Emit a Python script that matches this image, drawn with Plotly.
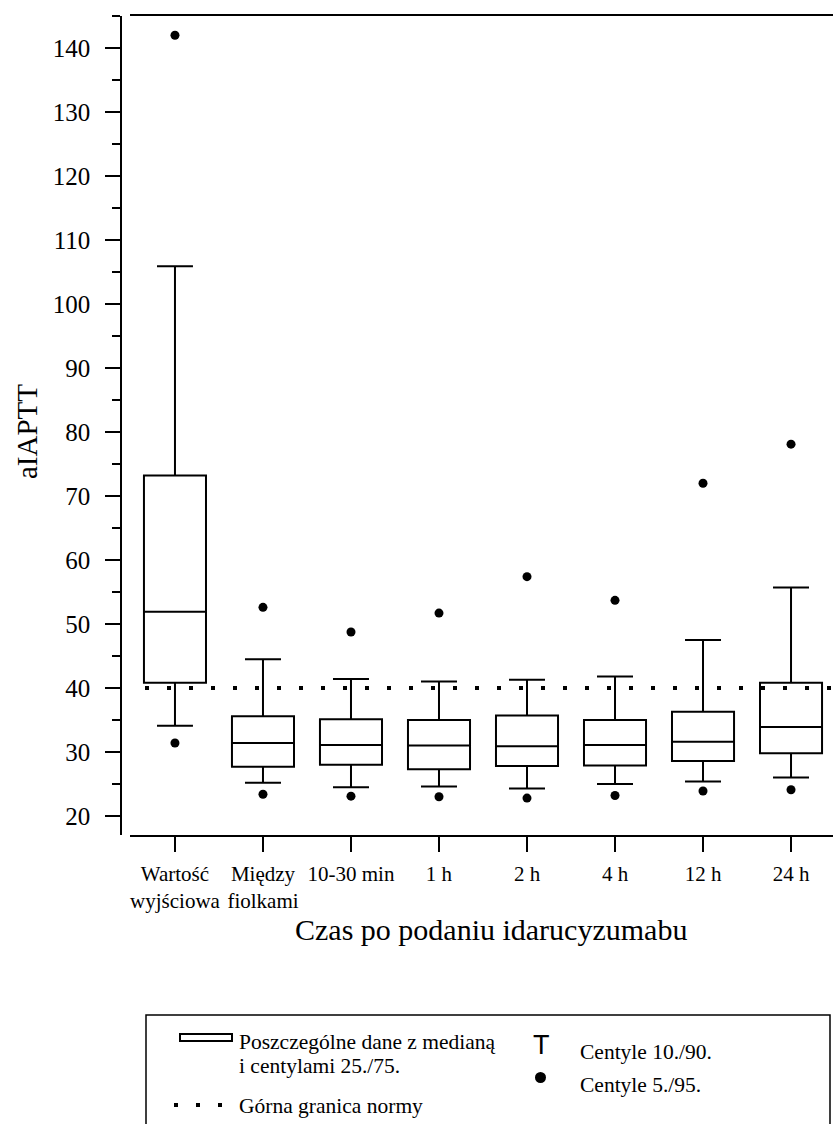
import plotly.graph_objects as go

# ---------------- data ----------------
categories = ["Wartość<br>wyjściowa", "Między<br>fiolkami", "10-30 min", "1 h", "2 h", "4 h", "12 h", "24 h"]
x_idx = list(range(len(categories)))
p5 = [31.4, 23.4, 23.1, 23.0, 22.8, 23.2, 23.9, 24.1]
p10 = [34.1, 25.2, 24.5, 24.6, 24.3, 25.0, 25.4, 26.0]
q1 = [40.8, 27.7, 28.0, 27.3, 27.8, 27.9, 28.6, 29.8]
median = [51.9, 31.4, 31.1, 31.0, 30.9, 31.1, 31.6, 33.9]
q3 = [73.2, 35.6, 35.1, 35.0, 35.7, 35.0, 36.3, 40.8]
p90 = [105.9, 44.5, 41.4, 41.0, 41.3, 41.8, 47.5, 55.7]
p95 = [142.0, 52.6, 48.75, 51.7, 57.4, 53.7, 72.0, 78.1]
upper_normal = 40
y_ticks = [20, 30, 40, 50, 60, 70, 80, 90, 100, 110, 120, 130, 140]

# ---------------- geometry helpers (pixels -> paper) ----------------
W, H = 833, 1124
ML, MR, MT, MB = 121, 0, 16, 289
PW, PH = W - ML - MR, H - MT - MB


def px(x):
    return (x - ML) / PW


def py(y):
    return (H - MB - y) / PH


SERIF = "Liberation Serif, Times New Roman, serif"

fig = go.Figure()

fig.add_trace(go.Box(
    x=x_idx, q1=q1, median=median, q3=q3, lowerfence=p10, upperfence=p90,
    width=0.705, whiskerwidth=0.58, fillcolor="white",
    line=dict(color="black", width=2), boxpoints=False,
    showlegend=False, hoverinfo="skip",
))
for vals in (p5, p95):
    fig.add_trace(go.Scatter(
        x=x_idx, y=vals, mode="markers",
        marker=dict(color="black", size=9),
        showlegend=False, hoverinfo="skip", cliponaxis=False,
    ))

# upper normal limit dotted line
fig.add_shape(type="line", xref="x domain", yref="y", x0=0, x1=1.01,
              y0=upper_normal, y1=upper_normal,
              line=dict(color="black", width=4, dash="0px,15px,4px,3px"))

# ---------------- axis titles ----------------
fig.add_annotation(text="Czas po podaniu idarucyzumabu", xref="paper", yref="paper",
                   x=px(491), y=py(929), showarrow=False, xanchor="center", yanchor="middle",
                   font=dict(size=30, family=SERIF, color="black"))
fig.add_annotation(text="aIAPTT", xref="paper", yref="paper",
                   x=px(27), y=py(432), showarrow=False, xanchor="center", yanchor="middle",
                   textangle=-90, font=dict(size=29, family=SERIF, color="black"))

# ---------------- legend ----------------
fig.add_shape(type="rect", xref="paper", yref="paper",
              x0=px(146), x1=px(830), y0=py(1015), y1=py(1135),
              line=dict(color="black", width=1.5), fillcolor="rgba(0,0,0,0)")
fig.add_shape(type="rect", xref="paper", yref="paper",
              x0=px(180), x1=px(232), y0=py(1034), y1=py(1041),
              line=dict(color="black", width=2), fillcolor="white")
for xd in (176, 198, 220):
    fig.add_shape(type="rect", xref="paper", yref="paper",
                  x0=px(xd - 2), x1=px(xd + 2), y0=py(1103), y1=py(1107),
                  line=dict(width=0), fillcolor="black")
fig.add_shape(type="circle", xref="paper", yref="paper",
              x0=px(535), x1=px(546), y0=py(1072), y1=py(1083),
              line=dict(width=0), fillcolor="black")

legend_texts = [
    ("Poszczególne dane z medianą", 237, 1042),
    ("i centylami 25./75.", 237, 1066),
    ("Górna granica normy", 237, 1106),
    ("Centyle 10./90.", 578, 1052),
    ("Centyle 5./95.", 578, 1085),
]
for t, x, y in legend_texts:
    fig.add_annotation(text=t, xref="paper", yref="paper", x=px(x), y=py(y),
                       showarrow=False, xanchor="left", yanchor="middle",
                       font=dict(size=21.5, family=SERIF, color="black"))
fig.add_annotation(text="T", xref="paper", yref="paper", x=px(541), y=py(1045),
                   showarrow=False, xanchor="center", yanchor="middle",
                   font=dict(size=27, family="Liberation Sans, Arial, sans-serif", color="black"))

fig.update_layout(
    width=W, height=H,
    margin=dict(l=ML, r=MR, t=MT, b=MB, pad=0),
    paper_bgcolor="white", plot_bgcolor="white",
    font=dict(family=SERIF, color="black"),
    showlegend=False,
    xaxis=dict(
        domain=[px(130), 1], range=[-0.511, 7.477],
        tickmode="array", tickvals=x_idx, ticktext=categories,
        ticks="outside", ticklen=15, tickwidth=1.5, tickcolor="black",
        ticklabelstandoff=4,
        showline=True, linewidth=1.5, linecolor="black", mirror=True,
        showgrid=False, zeroline=False,
        tickfont=dict(size=21, family=SERIF, color="black"),
    ),
    yaxis=dict(
        anchor="free", position=0, range=[17.03, 145],
        tickmode="array", tickvals=y_ticks,
        ticks="outside", ticklen=15, tickwidth=1.5, tickcolor="black",
        ticklabelstandoff=10,
        minor=dict(tickmode="linear", tick0=0, dtick=5, ticks="outside", ticklen=8,
                   tickwidth=1.5, tickcolor="black", showgrid=False),
        showline=True, linewidth=1.5, linecolor="black",
        showgrid=False, zeroline=False,
        tickfont=dict(size=25, family=SERIF, color="black"),
    ),
)

fig.write_html("out.html")
